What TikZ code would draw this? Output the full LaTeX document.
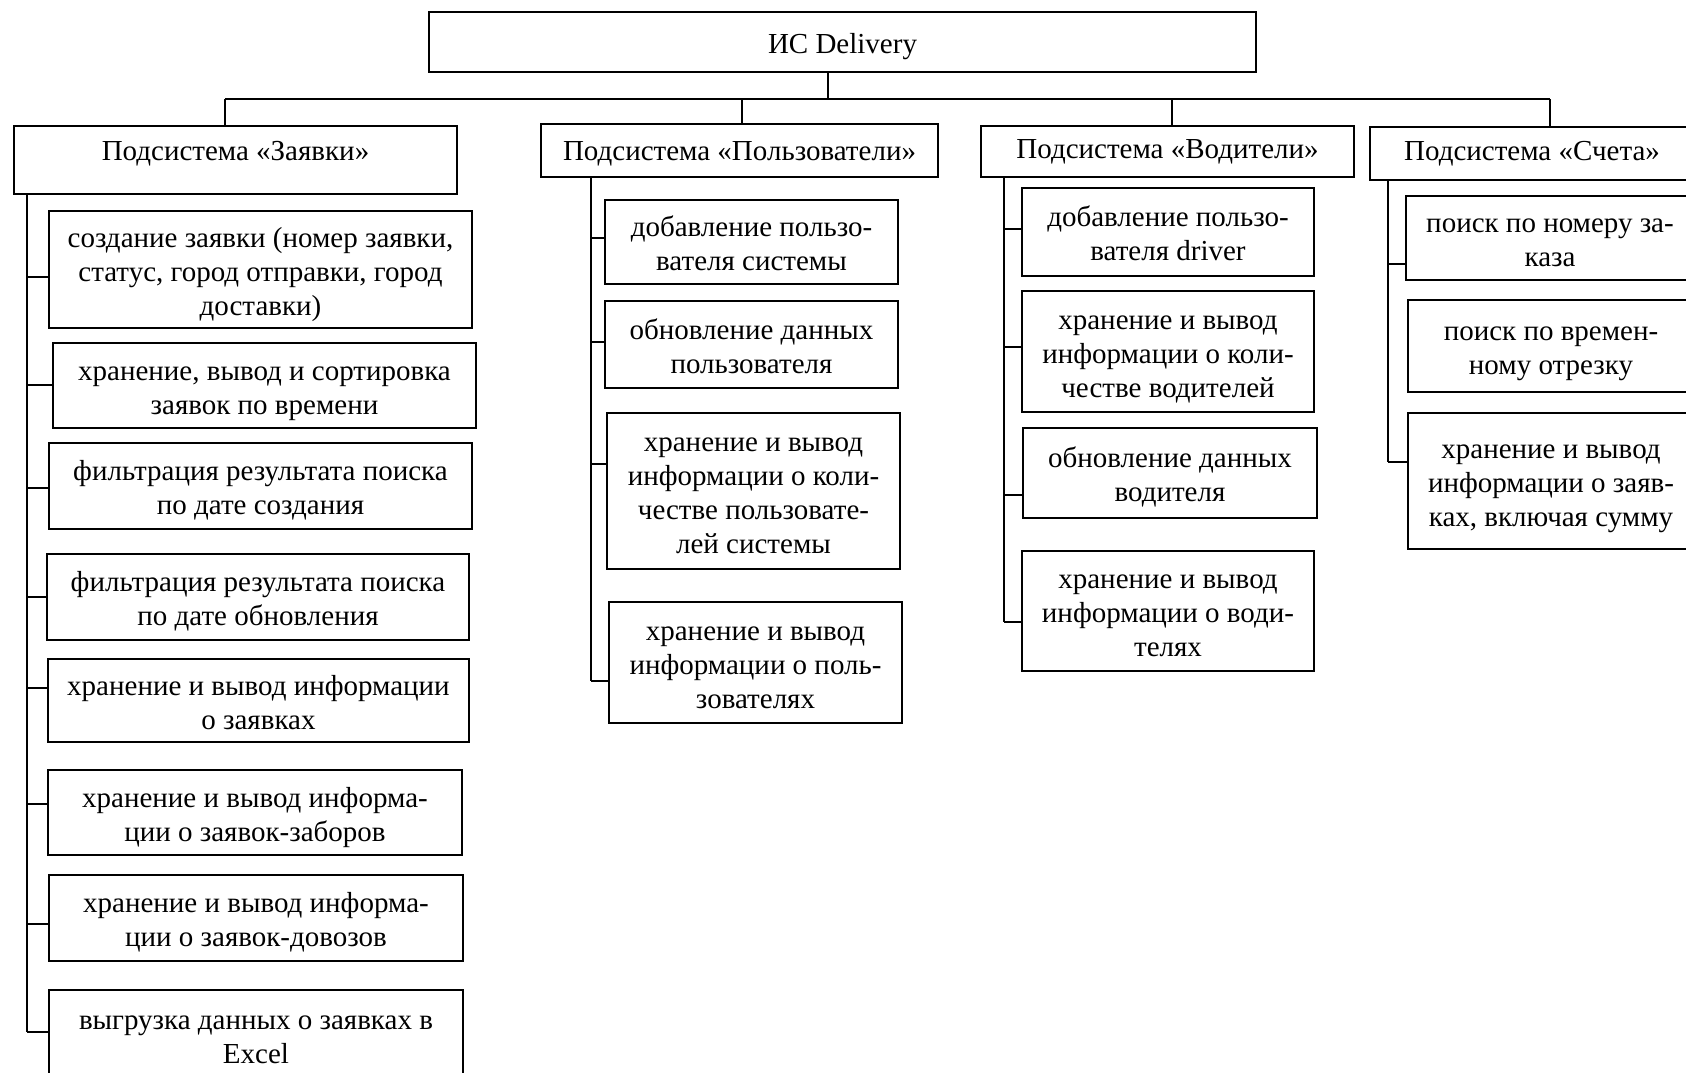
\documentclass[tikz,border=0pt]{standalone}
\usepackage{fontspec}
\setmainfont{Liberation Serif}
\begin{document}
\begin{tikzpicture}[x=0.5pt,y=-0.5pt,
  bx/.style={draw, line width=1pt, inner sep=0pt,
    font=\fontsize{14.5}{17}\selectfont},
  ln/.style={line width=1pt}]
\useasboundingbox (0,0) rectangle (1686,1072);
\clip (0,0) rectangle (1686,1072);
\fill[white] (0,0) rectangle (1686,1072);

% box from corner (x1,y1) to corner (x2,y2); the optional argument is extra
% height above the first line, which lowers the text by half of it
\newcommand\boxat[7][5pt]{\node[bx, minimum width={(#5-#3)*0.5pt}, minimum height={(#6-#4)*0.5pt}]
  (#2) at ({(#3+#5)/2},{(#4+#6)/2})
  {\begin{tabular}{@{}c@{}}\rule{0pt}{\dimexpr11.9pt+#1\relax}#7\end{tabular}};}

% root and subsystem headers
\boxat{top}{429}{12}{1256}{72}{ИС Delivery}
\boxat[0pt]{zh}{14}{126}{457}{194}{Подсистема «Заявки»\rule[-11pt]{0pt}{11pt}}
\boxat[3.6pt]{ph}{541}{124}{938}{177}{Подсистема «Пользователи»}
\boxat[0.5pt]{vh}{981}{126}{1354}{177}{Подсистема «Водители»}
\boxat[0.6pt]{sh}{1370}{127}{1694}{180}{Подсистема «Счета»}

% bus between root and headers
\coordinate (hub) at (828,99);
\coordinate (d1) at (225,99);
\coordinate (d2) at (742,99);
\coordinate (d3) at (1172,99);
\coordinate (d4) at (1550,99);
\draw[ln] (hub |- top.south) -- (hub);
\draw[ln] (d1) -- (d4);
\draw[ln] (d1) -- (d1 |- zh.north);
\draw[ln] (d2) -- (d2 |- ph.north);
\draw[ln] (d3) -- (d3 |- vh.north);
\draw[ln] (d4) -- (d4 |- sh.north);

% subsystem "Заявки"
\boxat{z1}{49}{211}{472}{328}{создание заявки (номер заявки,\\статус, город отправки, город\\доставки)}
\boxat{z2}{53}{343}{476}{428}{хранение, вывод и сортировка\\заявок по времени}
\boxat{z3}{49}{443}{472}{529}{фильтрация результата поиска\\по дате создания}
\boxat{z4}{47}{554}{469}{640}{фильтрация результата поиска\\по дате обновления}
\boxat{z5}{48}{659}{469}{742}{хранение и вывод информации\\о заявках}
\boxat{z6}{48}{770}{462}{855}{хранение и вывод информа-\\ции о заявок-заборов}
\boxat{z7}{49}{875}{463}{961}{хранение и вывод информа-\\ции о заявок-довозов}
\boxat{z8}{49}{990}{463}{1080}{выгрузка данных о заявках в\\Excel}
\coordinate (zt1) at (27,277);
\coordinate (zt2) at (27,385);
\coordinate (zt3) at (27,488);
\coordinate (zt4) at (27,597);
\coordinate (zt5) at (27,688);
\coordinate (zt6) at (27,804);
\coordinate (zt7) at (27,924);
\coordinate (zt8) at (27,1032);
\draw[ln] (zt1 |- zh.south) -- (zt8);
\foreach \i in {1,...,8} \draw[ln] (zt\i) -- (zt\i -| z\i.west);

% subsystem "Пользователи"
\boxat{p1}{605}{200}{898}{284}{добавление пользо-\\вателя системы}
\boxat{p2}{605}{301}{898}{388}{обновление данных\\пользователя}
\boxat{p3}{607}{413}{900}{569}{хранение и вывод\\информации о коли-\\честве пользовате-\\лей системы}
\boxat{p4}{609}{602}{902}{723}{хранение и вывод\\информации о поль-\\зователях}
\coordinate (pt1) at (591,238);
\coordinate (pt2) at (591,342);
\coordinate (pt3) at (591,464);
\coordinate (pt4) at (591,681);
\draw[ln] (pt1 |- ph.south) -- (pt4);
\foreach \i in {1,...,4} \draw[ln] (pt\i) -- (pt\i -| p\i.west);

% subsystem "Водители"
\boxat{v1}{1022}{188}{1314}{276}{добавление пользо-\\вателя driver}
\boxat{v2}{1022}{291}{1314}{412}{хранение и вывод\\информации о коли-\\честве водителей}
\boxat{v3}{1023}{428}{1317}{518}{обновление данных\\водителя}
\boxat{v4}{1022}{551}{1314}{671}{хранение и вывод\\информации о води-\\телях}
\coordinate (vt1) at (1004,229);
\coordinate (vt2) at (1004,347);
\coordinate (vt3) at (1004,495);
\coordinate (vt4) at (1004,622);
\draw[ln] (vt1 |- vh.south) -- (vt4);
\foreach \i in {1,...,4} \draw[ln] (vt\i) -- (vt\i -| v\i.west);

% subsystem "Счета"
\boxat{s1}{1406}{196}{1694}{280}{поиск по номеру за-\\каза}
\boxat{s2}{1408}{300}{1694}{392}{поиск по времен-\\ному отрезку}
\boxat{s3}{1408}{413}{1694}{549}{хранение и вывод\\информации о заяв-\\ках, включая сумму}
\coordinate (st1) at (1388,264);
\coordinate (st3) at (1388,462);
\draw[ln] (st1 |- sh.south) -- (st3);
\draw[ln] (st1) -- (st1 -| s1.west);
\draw[ln] (st3) -- (st3 -| s3.west);
\end{tikzpicture}
\end{document}
